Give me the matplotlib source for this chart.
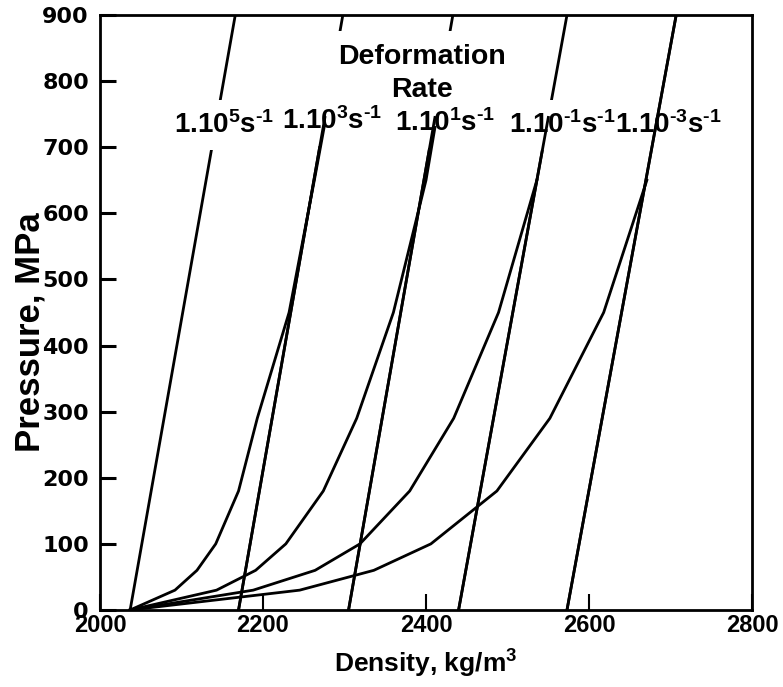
import numpy as np
import matplotlib
matplotlib.use("Agg")
import matplotlib.pyplot as plt

# loading curves: pressure (MPa) vs density (kg/m3), one per deformation rate
p_load = [0, 30, 60, 100, 180, 290, 450, 650, 730]
rho_load_1e3 = [2037, 2092, 2119, 2142, 2170, 2193, 2232, 2263, 2275]
rho_load_1e1 = [2037, 2143, 2191, 2228, 2274, 2315, 2360, 2400, 2411]
rho_load_1em1 = [2037, 2188, 2264, 2319, 2380, 2434, 2489, 2536]
rho_load_1em3 = [2037, 2245, 2336, 2406, 2487, 2552, 2618, 2671]

# unloading (straight) lines, density at 0 and at 900 MPa
p_unload = [0, 900]
rho_unload_base = [2037, 2170, 2305, 2440, 2573]
rho_unload_top = [2166, 2298, 2433, 2573, 2707]

rate_labels = [r"1.10$^{5}$s$^{\text{-}1}$", r"1.10$^{3}$s$^{\text{-}1}$",
               r"1.10$^{1}$s$^{\text{-}1}$", r"1.10$^{\text{-}1}$s$^{\text{-}1}$",
               r"1.10$^{\text{-}3}$s$^{\text{-}1}$"]
label_rho = [2152, 2285, 2423, 2567, 2697]
label_p = [733, 739, 736, 734, 734]

x_ticks = [2000, 2200, 2400, 2600, 2800]
y_ticks = [0, 100, 200, 300, 400, 500, 600, 700, 800, 900]

plt.rcParams["mathtext.fontset"] = "custom"
plt.rcParams["mathtext.rm"] = "Liberation Sans:bold"
plt.rcParams["mathtext.it"] = "Liberation Sans:bold"
plt.rcParams["mathtext.bf"] = "Liberation Sans:bold"
plt.rcParams["mathtext.default"] = "rm"

fig = plt.figure(figsize=(7.83, 6.87), dpi=100)
ax = fig.add_axes([0.1277, 0.1121, 0.8327, 0.8661])

lw = 2.0
p_front = 745  # part of unloading lines drawn over the labels

for i, (r0, r1) in enumerate(zip(rho_unload_base, rho_unload_top)):
    ax.plot([r0, r1], p_unload, color="black", lw=lw, zorder=2)
    if i == 4:
        ax.plot([r0, r1], p_unload, color="black", lw=lw, zorder=4)
    elif i >= 1:
        r_front = np.interp(p_front, p_unload, [r0, r1])
        ax.plot([r0, r_front], [0, p_front], color="black", lw=lw, zorder=4)

for rho in [rho_load_1e3, rho_load_1e1, rho_load_1em1, rho_load_1em3]:
    ax.plot(rho, p_load[:len(rho)], color="black", lw=lw, zorder=4)

lab_kw = dict(ha="center", va="center", fontsize=20,
              fontfamily="Liberation Sans", fontweight="bold")
for i, (txt, r, p) in enumerate(zip(rate_labels, label_rho, label_p)):
    if i < 4:
        # white patch behind the label (hides the upper part of the line)
        ax.text(r, p, txt, color="white", zorder=3,
                bbox=dict(facecolor="white", edgecolor="none", pad=8), **lab_kw)
    ax.text(r, p, txt, color="black", zorder=3.5, **lab_kw)

ax.text(2395, 812, "Deformation\nRate", ha="center", va="center",
        multialignment="center", fontsize=20.5, fontfamily="Liberation Sans",
        fontweight="bold", linespacing=1.35,
        bbox=dict(facecolor="white", edgecolor="none", pad=9), zorder=3)

ax.set_xlim(2000, 2800)
ax.set_ylim(0, 900)
ax.set_xticks(x_ticks)
ax.set_yticks(y_ticks)
for s in ax.spines.values():
    s.set_linewidth(2.0)

ax.tick_params(axis="y", direction="in", length=11.5, width=2.2, pad=8)
ax.tick_params(axis="x", direction="in", length=11.5, width=1.5, pad=3)
for t in ax.get_yticklabels():
    t.set_fontfamily("DejaVu Sans")
    t.set_fontweight("bold")
    t.set_fontsize(16)
for t in ax.get_xticklabels():
    t.set_fontfamily("Liberation Sans")
    t.set_fontweight("bold")
    t.set_fontsize(17)

ax.set_xlabel(r"Density, kg/m$^{3}$", fontsize=19, fontfamily="Liberation Sans",
              fontweight="bold", labelpad=8)
ax.set_ylabel("Pressure, MPa", fontsize=25, fontfamily="Liberation Sans",
              fontweight="bold")
ax.yaxis.set_label_coords(-0.082, 0.467)

fig.savefig("out.png", dpi=100)
